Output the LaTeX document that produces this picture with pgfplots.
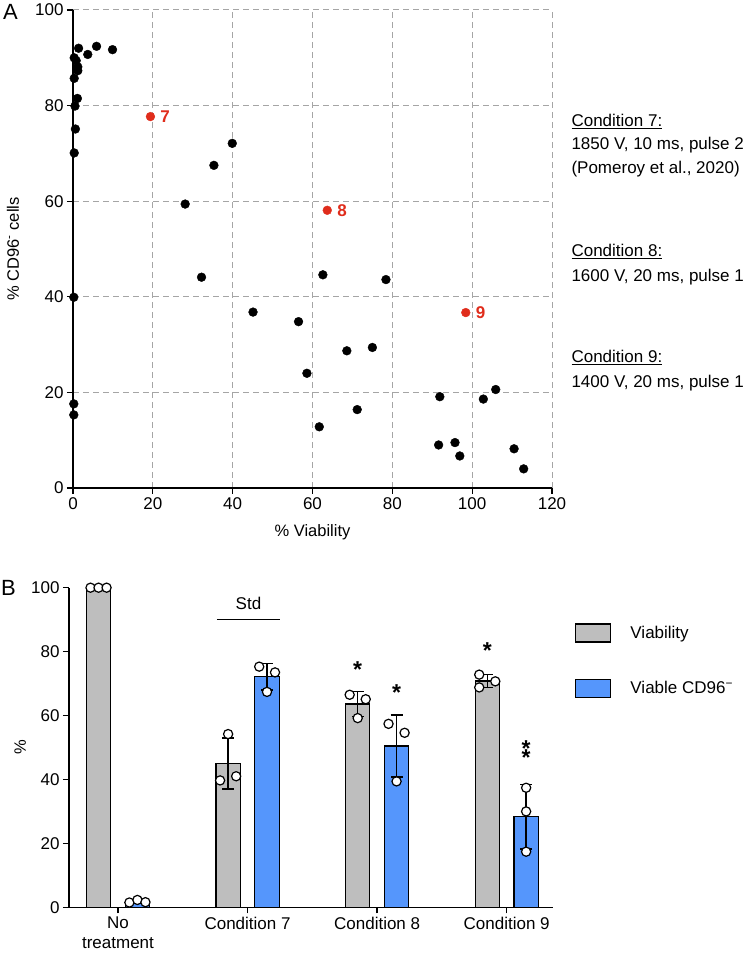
\documentclass[border=0pt]{standalone}
\usepackage{fontspec}
\setmainfont{Liberation Sans}
\usepackage{pgfplots}
\usepackage{pgfplotstable}
\pgfplotsset{compat=1.18}
\definecolor{redpt}{RGB}{224,45,28}
\definecolor{bargray}{RGB}{190,190,190}
\definecolor{barblue}{RGB}{85,150,252}
\definecolor{gridgray}{RGB}{165,165,165}
\newcommand{\fs}{\fontsize{17}{20}\selectfont}
\newcommand{\fl}{\fontsize{16.5}{20}\selectfont}

\pgfplotstableread{
x y
1.4 92.0
5.9 92.4
9.9 91.7
3.7 90.7
0.3 90.0
0.8 89.4
1.2 88.1
1.2 87.3
0.3 85.7
1.1 81.5
0.5 79.9
0.6 75.1
0.3 70.1
0.2 39.9
0.2 17.6
0.2 15.3
39.9 72.1
35.3 67.5
28.1 59.4
32.2 44.1
62.6 44.6
78.4 43.6
45.1 36.8
56.5 34.8
68.6 28.7
75.0 29.4
58.6 24.0
91.9 19.1
105.9 20.6
102.8 18.6
71.2 16.4
61.7 12.8
91.6 9.0
95.7 9.5
96.9 6.7
110.5 8.2
112.9 4.0
}\blackpts

\pgfplotstableread{
x y lab
19.4 77.7 7
63.7 58.1 8
98.4 36.7 9
}\redpts

\pgfplotstableread{
x y e
-0.150 100.0 0.0
0.850 45.0 8.0
1.850 63.6 3.9
2.850 70.8 2.0
}\viab

\pgfplotstableread{
x y e
0.150 1.8 0.4
1.150 72.1 4.1
2.150 50.5 9.7
3.150 28.3 10.1
}\viabneg

\pgfplotstableread{
x y
-0.212 100.0
-0.150 100.0
-0.088 100.0
0.788 39.7
0.850 54.2
0.912 41.0
1.788 66.5
1.850 59.2
1.912 65.1
2.788 72.8
2.788 68.8
2.912 70.7
}\viabdots

\pgfplotstableread{
x y
0.088 1.5
0.150 2.3
0.212 1.6
1.090 75.3
1.150 67.4
1.212 73.5
2.088 57.4
2.150 39.4
2.212 54.6
3.150 37.4
3.150 30.0
3.150 17.4
}\negdots

\pgfplotstableread{
x y t
1.850 75.8 *
2.150 68.8 *
2.850 81.9 *
3.150 51.3 *
3.150 48.4 *
}\stars

\pgfplotsset{
  panelstyle/.style={
    scale only axis,
    anchor=south west,
    axis x line*=bottom,
    axis y line*=left,
    axis line style={line width=1.3pt,-},
    every tick/.style={line width=1.3pt,black},
    tick align=outside,
    major tick length=6pt,
    /pgf/number format/assume math mode=true,
    tick label style={font=\fs},
    clip=false,
  },
  boxlegend/.style={legend image code/.code={\draw[##1, line width=1.2pt] (0pt,-9pt) rectangle (35pt,9pt); \path (54pt,0pt);}},
  errstyle/.style={error bars/.cd, y dir=both, y explicit,
    error bar style={line width=1.3pt, black},
    error mark options={rotate=90, mark size=6pt, line width=1.3pt, black}},
}

\begin{document}
\begin{tikzpicture}[x=1pt,y=1pt]
\useasboundingbox (0,0) rectangle (746,958);

\node[font=\fontsize{22}{26}\selectfont, anchor=center] at (10.5,946) {A};
\node[font=\fontsize{22}{26}\selectfont, anchor=center] at (8.5,370) {B};

% ---------------- Panel A ----------------
\begin{axis}[
  panelstyle,
  at={(73pt,470pt)},
  width=479pt, height=478pt,
  xmin=0, xmax=120, ymin=0, ymax=100,
  xtick={0,20,...,120}, ytick={0,20,...,100},
  grid=major,
  major grid style={gridgray, line width=1pt, dash pattern=on 6pt off 4pt},
  every axis x label/.style={at={(axis description cs:0.5,-0.092)}, anchor=center, font=\fl},
  every axis y label/.style={at={(axis description cs:-0.1253,0.5)}, rotate=90, anchor=center, font=\fl},
  xlabel={\% Viability},
  ylabel={\% CD96\textsuperscript{-} cells},
]
\addplot[only marks, mark=*, mark size=4.4pt, color=black] table[x=x,y=y] {\blackpts};
\addplot[only marks, mark=*, mark size=4.4pt, color=redpt,
  point meta=explicit symbolic,
  nodes near coords,
  nodes near coords align={anchor=west},
  every node near coord/.append style={anchor=west, xshift=6.5pt, font=\fs\bfseries, text=redpt}]
  table[x=x,y=y,meta=lab] {\redpts};
\end{axis}

\node[anchor=base west, font=\fs] at (568,831.5) {\underline{Condition 7:}};
\node[anchor=base west, font=\fs] at (568,808.5) {1850 V, 10 ms, pulse 2};
\node[anchor=base west, font=\fs] at (568,784) {(Pomeroy et al., 2020)};
\node[anchor=base west, font=\fs] at (568,701.5) {\underline{Condition 8:}};
\node[anchor=base west, font=\fs] at (568,676) {1600 V, 20 ms, pulse 1};
\node[anchor=base west, font=\fs] at (568,595.5) {\underline{Condition 9:}};
\node[anchor=base west, font=\fs] at (568,570) {1400 V, 20 ms, pulse 1};

% ---------------- Panel B ----------------
\begin{axis}[
  panelstyle,
  at={(69pt,50.7pt)},
  width=483.7pt, height=319.6pt,
  xmin=-0.378, xmax=3.355, ymin=0, ymax=100,
  xtick={0,1,2,3},
  xticklabels={{No\\treatment},{Condition 7},{Condition 8},{Condition 9}},
  xticklabel style={align=center},
  ytick={0,20,...,100},
  every axis y label/.style={at={(axis description cs:-0.101,0.5)}, rotate=90, anchor=center, font=\fl},
  ylabel={\%},
  legend style={at={(1.040,0.895)}, anchor=north west, draw=none, fill=none,
    font=\fs, row sep=36pt, nodes={inner sep=0pt}},
  legend cell align=left,
]
\addplot[ybar, bar shift=0pt, bar width=0.1875, fill=bargray, draw=black, line width=1.2pt,
  boxlegend, errstyle]
  table[x=x,y=y,y error=e] {\viab};
\addlegendentry{Viability}
\addplot[ybar, bar shift=0pt, bar width=0.1875, fill=barblue, draw=black, line width=1.2pt,
  boxlegend, errstyle]
  table[x=x,y=y,y error=e] {\viabneg};
\addlegendentry{Viable CD96\textsuperscript{−}}
\addplot[forget plot, only marks, mark=*, mark size=4.6pt,
  mark options={fill=white, draw=black, line width=1.2pt}]
  table[x=x,y=y] {\viabdots};
\addplot[forget plot, only marks, mark=*, mark size=4.6pt,
  mark options={fill=white, draw=black, line width=1.2pt}]
  table[x=x,y=y] {\negdots};
\addplot[forget plot, draw=none, mark=none,
  point meta=explicit symbolic, nodes near coords,
  nodes near coords align={anchor=center},
  every node near coord/.append style={anchor=center, yshift=-5pt, inner sep=0pt, font=\fontsize{23}{26}\selectfont\bfseries}]
  table[x=x,y=y,meta=t] {\stars};
\addplot[forget plot, black, line width=1.3pt, mark=none] coordinates {(0.764,90) (1.250,90)};
\node[font=\fs, anchor=base] at (axis cs:1.007,93.2) {Std};
\end{axis}
\end{tikzpicture}
\end{document}
